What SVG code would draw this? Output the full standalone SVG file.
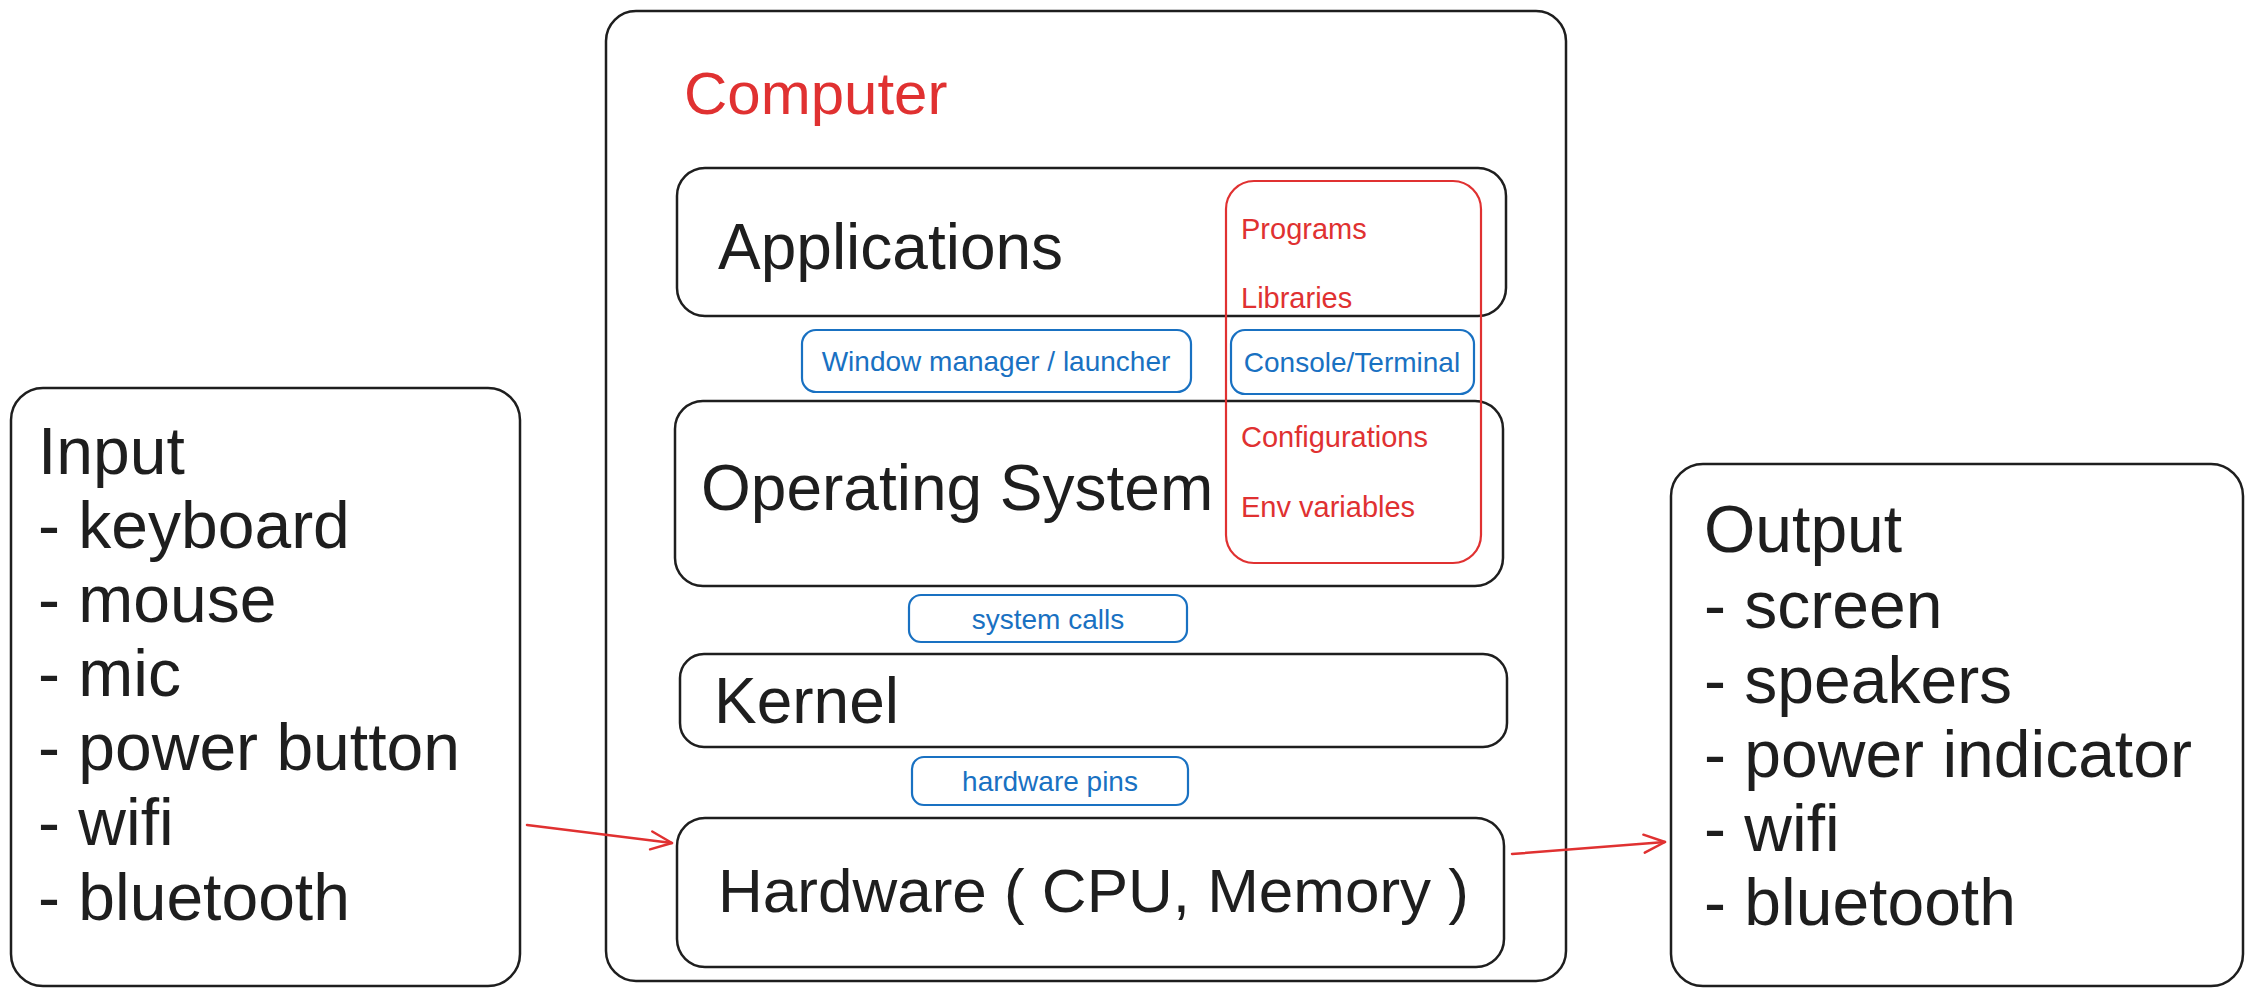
<svg xmlns="http://www.w3.org/2000/svg" width="2253" height="996" viewBox="0 0 2253 996">
<defs>
<style>
.box{fill:none;stroke:#1e1e1e;stroke-width:2.5}
.red{fill:none;stroke:#e03131;stroke-width:2.2}
.blue{fill:none;stroke:#1971c2;stroke-width:2.2}
.t{font-family:"Liberation Sans",Arial,sans-serif;fill:#1e1e1e}
.big{font-size:64px}
.list{font-size:66px}
.rt{font-family:"Liberation Sans",Arial,sans-serif;fill:#e03131;font-size:29px}
.bt{font-family:"Liberation Sans",Arial,sans-serif;fill:#1971c2;font-size:28px;text-anchor:middle}
.conn{fill:none;stroke:#e03131;stroke-width:2.5;stroke-linecap:round}
</style>
<marker id="arr" viewBox="0 0 26 26" refX="24" refY="13" markerWidth="26" markerHeight="26" markerUnits="userSpaceOnUse" orient="auto">
<path d="M3,4 L24,13 L3,22" fill="none" stroke="#e03131" stroke-width="2.5" stroke-linecap="round" stroke-linejoin="round"/>
</marker>
</defs>
<rect width="2253" height="996" fill="#ffffff"/>

<g id="computer">
<rect class="box" x="606" y="11" width="960" height="970" rx="30"/>
<text x="684" y="114" font-family="Liberation Sans,Arial,sans-serif" font-size="60" fill="#e03131">Computer</text>
</g>

<g id="applications">
<rect class="box" x="677" y="168" width="829" height="148" rx="28"/>
<text class="t big" x="718" y="269">Applications</text>
</g>

<g id="operating-system">
<rect class="box" x="675" y="401" width="828" height="185" rx="28"/>
<text class="t big" x="701" y="510">Operating System</text>
</g>

<g id="kernel">
<rect class="box" x="680" y="654" width="827" height="93" rx="24"/>
<text class="t big" x="714" y="723">Kernel</text>
</g>

<g id="hardware">
<rect class="box" x="677" y="818" width="827" height="149" rx="28"/>
<text class="t" x="718" y="912" font-size="62">Hardware ( CPU, Memory )</text>
</g>

<g id="user-space">
<rect class="red" x="1226" y="181" width="255" height="382" rx="28"/>
<text class="rt" x="1241" y="239">Programs</text>
<text class="rt" x="1241" y="308">Libraries</text>
<text class="rt" x="1241" y="447">Configurations</text>
<text class="rt" x="1241" y="517">Env variables</text>
</g>

<g id="window-manager">
<rect class="blue" x="802" y="330" width="389" height="62" rx="14"/>
<text class="bt" x="996" y="371">Window manager / launcher</text>
</g>

<g id="console">
<rect class="blue" x="1231" y="330" width="243" height="64" rx="14"/>
<text class="bt" x="1352" y="372">Console/Terminal</text>
</g>

<g id="system-calls">
<rect class="blue" x="909" y="595" width="278" height="47" rx="12"/>
<text class="bt" x="1048" y="629">system calls</text>
</g>

<g id="hardware-pins">
<rect class="blue" x="912" y="757" width="276" height="48" rx="12"/>
<text class="bt" x="1050" y="791">hardware pins</text>
</g>

<g id="input">
<rect class="box" x="11" y="388" width="509" height="598" rx="32"/>
<text class="t list" x="38" y="474">Input</text>
<text class="t list" x="38" y="548">- keyboard</text>
<text class="t list" x="38" y="622">- mouse</text>
<text class="t list" x="38" y="696">- mic</text>
<text class="t list" x="38" y="770">- power button</text>
<text class="t list" x="38" y="845">- wifi</text>
<text class="t list" x="38" y="920">- bluetooth</text>
</g>

<g id="output">
<rect class="box" x="1671" y="464" width="572" height="522" rx="32"/>
<text class="t list" x="1704" y="552">Output</text>
<text class="t list" x="1704" y="628">- screen</text>
<text class="t list" x="1704" y="703">- speakers</text>
<text class="t list" x="1704" y="777">- power indicator</text>
<text class="t list" x="1704" y="851">- wifi</text>
<text class="t list" x="1704" y="925">- bluetooth</text>
</g>

<g id="connectors">
<path class="conn" d="M527,825 L672,843" marker-end="url(#arr)"/>
<path class="conn" d="M1512,854 L1665,842" marker-end="url(#arr)"/>
</g>
</svg>
